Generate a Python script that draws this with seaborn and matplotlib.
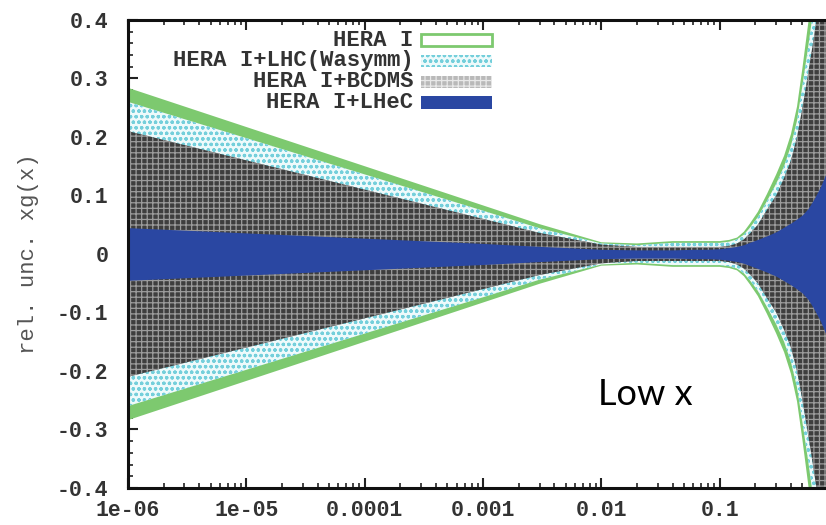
import pandas as pd
import seaborn as sns
import matplotlib.pyplot as plt
from matplotlib.patches import Rectangle
from matplotlib.ticker import FixedLocator, NullFormatter

# x positions of the band edges (log scale)
x_vals = [1e-6, 1e-5, 1e-4, 1e-3, 3e-3, 0.01, 0.02, 0.04, 0.06, 0.08,
          0.1, 0.12, 0.14, 0.16, 0.18, 0.21, 0.25, 0.3, 0.35, 0.4,
          0.45, 0.5, 0.56, 0.63, 0.71, 0.8, 0.9, 1.0]

# half-widths of the relative uncertainty bands
hera1 = [0.284, 0.217, 0.150, 0.083, 0.051, 0.020, 0.018, 0.022, 0.022, 0.022,
         0.022, 0.024, 0.028, 0.038, 0.052, 0.072, 0.102, 0.136, 0.168, 0.205,
         0.252, 0.318, 0.395, 0.480, 0.560, 0.650, 0.730, 0.800]
hera1_lhc = [0.260, 0.198, 0.136, 0.074, 0.044, 0.018, 0.015, 0.019, 0.019, 0.019,
             0.019, 0.021, 0.025, 0.033, 0.045, 0.063, 0.090, 0.120, 0.150, 0.185,
             0.228, 0.288, 0.355, 0.430, 0.510, 0.590, 0.670, 0.740]
hera1_bcdms = [0.210, 0.160, 0.110, 0.060, 0.036, 0.016, 0.012, 0.012, 0.012, 0.012,
               0.012, 0.014, 0.018, 0.025, 0.035, 0.050, 0.075, 0.100, 0.130, 0.160,
               0.200, 0.250, 0.310, 0.375, 0.450, 0.530, 0.610, 0.680]
hera1_lhec = [0.045, 0.036, 0.027, 0.018, 0.013, 0.008, 0.007, 0.007, 0.008, 0.008,
              0.009, 0.011, 0.013, 0.016, 0.020, 0.025, 0.031, 0.038, 0.046, 0.053,
              0.060, 0.067, 0.078, 0.095, 0.115, 0.140, 0.170, 0.200]

labels = ['HERA I', 'HERA I+LHC(Wasymm)', 'HERA I+BCDMS', 'HERA I+LHeC']

x_ticks = [1e-6, 1e-5, 1e-4, 1e-3, 1e-2, 1e-1]
x_tick_labels = ['1e-06', '1e-05', '0.0001', '0.001', '0.01', '0.1']
y_ticks = [-0.4, -0.3, -0.2, -0.1, 0.0, 0.1, 0.2, 0.3, 0.4]
y_tick_labels = ['-0.4', '-0.3', '-0.2', '-0.1', '0', '0.1', '0.2', '0.3', '0.4']

bands = pd.DataFrame({'x': x_vals, labels[0]: hera1, labels[1]: hera1_lhc,
                      labels[2]: hera1_bcdms, labels[3]: hera1_lhec})

# (facecolor, hatch, hatch colour) per band
styles = {
    labels[0]: ('#7dc96f', None, '#7dc96f'),
    labels[1]: ('#eefafb', 'ooo', '#74cfdb'),
    labels[2]: ('#3e3e3e', '+++', '#9c9c9c'),
    labels[3]: ('#2a47a2', None, '#2a47a2'),
}

sns.set_theme(style='ticks')
mono = ['Liberation Mono', 'DejaVu Sans Mono']
plt.rcParams['font.family'] = mono
plt.rcParams['font.weight'] = 'bold'
plt.rcParams['hatch.linewidth'] = 0.9

fig = plt.figure(figsize=(8.26, 5.25), dpi=100)
ax = fig.add_axes([0.155, 0.0705, 0.8596, 0.8915])

for i, name in enumerate(labels):
    fc, hatch, hc = styles[name]
    ax.fill_between(bands['x'], -bands[name], bands[name], facecolor=fc,
                    edgecolor=hc, hatch=hatch, linewidth=0, zorder=i + 1)

ax.set_xscale('log')
ax.set_xlim(1e-6, 1.0)
ax.set_ylim(-0.4, 0.4)

ax.set_xticks(x_ticks)
ax.set_xticklabels(x_tick_labels)
minors = [m * 10.0 ** e for e in range(-6, 0) for m in range(2, 10)]
ax.xaxis.set_minor_locator(FixedLocator(minors))
ax.xaxis.set_minor_formatter(NullFormatter())
ax.set_yticks(y_ticks)
ax.set_yticklabels(y_tick_labels)
ax.yaxis.set_minor_locator(FixedLocator([v / 100 for v in range(-40, 41, 2)]))

ax.tick_params(which='both', direction='in', top=True, right=True,
               colors='#222222', labelsize=15.5)
ax.tick_params(which='major', length=7, width=1.5)
ax.tick_params(which='minor', length=3.5, width=1.2)
ax.tick_params(axis='x', pad=9, labelcolor='#333333')
ax.tick_params(axis='y', pad=14, labelcolor='#333333')

for sp in ax.spines.values():
    sp.set_linewidth(2.2)
    sp.set_color('#111111')
    sp.set_zorder(10)

ax.set_xlabel('')
ax.set_ylabel('rel. unc. xg(x)', fontsize=16, color='#555555')
ax.yaxis.set_label_coords(-0.125, 0.5)

# gnuplot-style key: right-aligned text, sample box on the right
key_x = 0.513
key_w = 0.101
key_h = 0.026
for i, name in enumerate(labels):
    fc, hatch, hc = styles[name]
    yc = 0.957 - i * 0.0445
    ax.text(key_x - key_w - 0.01, yc, name, ha='right', va='center',
            fontsize=16, color='#333333', transform=ax.transAxes, zorder=12)
    if i == 0:
        rect = Rectangle((key_x - key_w, yc - key_h / 2), key_w, key_h,
                         facecolor='white', edgecolor=fc, linewidth=2,
                         transform=ax.transAxes, zorder=12)
    else:
        rect = Rectangle((key_x - key_w, yc - key_h / 2), key_w, key_h,
                         facecolor='#b9b9b9' if i == 2 else fc,
                         edgecolor='#e8e8e8' if i == 2 else hc,
                         hatch=hatch, linewidth=0,
                         transform=ax.transAxes, zorder=12)
    ax.add_patch(rect)

ax.text(0.662, 0.2, 'Low x', fontsize=26, fontfamily=['Lato', 'DejaVu Sans'],
        fontweight='normal', color='black', ha='left', va='center',
        transform=ax.transAxes, zorder=12)

fig.savefig('out.png', dpi=100, facecolor='white')
